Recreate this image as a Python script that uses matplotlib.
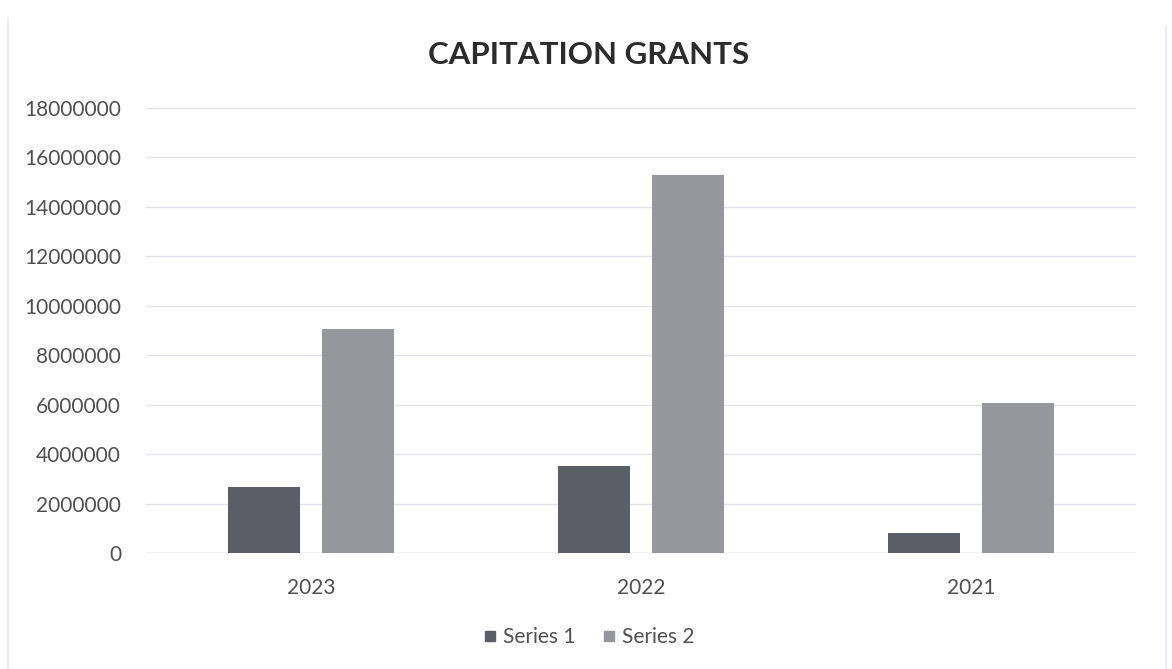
import matplotlib.pyplot as plt
import numpy as np
from matplotlib.lines import Line2D

plt.rcParams['font.family'] = ['Lato', 'DejaVu Sans']

# capitation grants per year
years = ['2023', '2022', '2021']
series_1 = [2650000, 3520000, 810000]
series_2 = [9060000, 15280000, 6070000]
y_ticks = list(range(0, 18000001, 2000000))

fig = plt.figure(figsize=(11.72, 6.69), dpi=100)
ax = fig.add_axes([146 / 1172, 1 - 553 / 669, 990 / 1172, 445 / 669])

x = np.arange(len(years))
w = 0.22
ax.bar(x - 0.142, series_1, w, color='#5b5e64', zorder=3)
ax.bar(x + 0.142, series_2, w, color='#95979d', zorder=3)

ax.set_xlim(-0.5, 2.5)
ax.set_ylim(0, 18000000)
ax.set_yticks(y_ticks)
ax.set_yticklabels([str(v) for v in y_ticks])
ax.set_xticks(x)
ax.set_xticklabels(years)
ax.grid(axis='y', color='#e2e2ea', linewidth=1, zorder=0)
ax.tick_params(length=0, labelsize=15, colors='#505050')
ax.tick_params(axis='y', pad=18)
ax.tick_params(axis='x', pad=18)
for s in ax.spines.values():
    s.set_visible(False)
ax.axhline(0, color='#d8d8e0', linewidth=1, zorder=2)

fig.text(0.502, 1 - 55 / 669, 'CAPITATION GRANTS', ha='center', va='center',
         fontsize=22.5, fontweight='bold', color='#2c2c2c')

handles = [Line2D([], [], marker='s', linestyle='', markersize=7, color='#5b5e64'),
           Line2D([], [], marker='s', linestyle='', markersize=7, color='#95979d')]
fig.legend(handles, ['Series 1', 'Series 2'], loc='center', ncol=2,
           bbox_to_anchor=(0.5, 1 - 637 / 669), frameon=False, fontsize=15,
           labelcolor='#505050', handletextpad=0.05, columnspacing=1.0,
           handlelength=1.2)

# light frame lines at the sides
fig.add_artist(Line2D([8 / 1172, 8 / 1172], [0, 0.97], color='#e4e4ee', linewidth=1.2))
fig.add_artist(Line2D([1166 / 1172, 1166 / 1172], [0, 0.96], color='#e4e4ee', linewidth=1.2))

fig.savefig('out.png', dpi=100)
